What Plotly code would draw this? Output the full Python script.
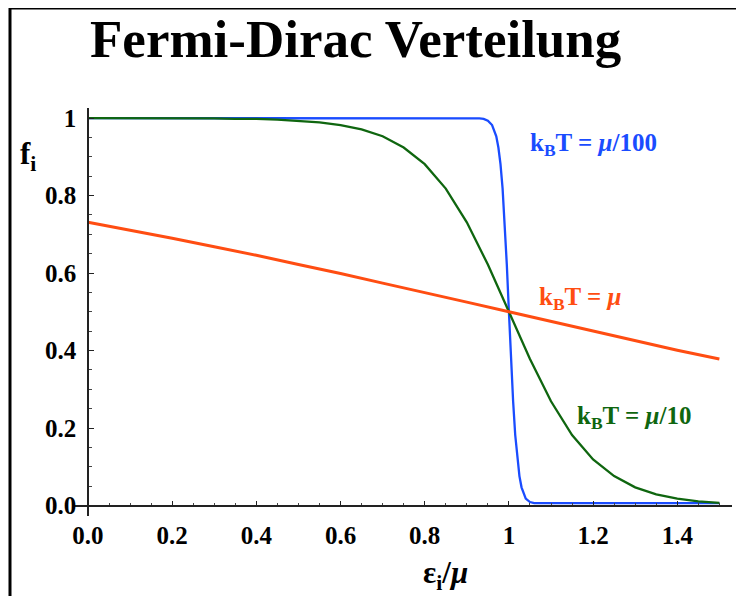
import plotly.graph_objects as go

# ---- data ----
x_orange = [0.0, 0.1, 0.2, 0.3, 0.4, 0.5, 0.6, 0.7, 0.8, 0.9, 1.0, 1.1, 1.2, 1.3, 1.4, 1.5]
f_orange = [0.731, 0.711, 0.690, 0.668, 0.646, 0.622, 0.599, 0.574, 0.550, 0.525, 0.500,
            0.475, 0.450, 0.426, 0.401, 0.378]

x_green = [0.0, 0.1, 0.2, 0.3, 0.35, 0.4, 0.45, 0.5, 0.55, 0.6, 0.65, 0.7, 0.75, 0.8, 0.85,
           0.9, 0.95, 1.0, 1.05, 1.1, 1.15, 1.2, 1.25, 1.3, 1.35, 1.4, 1.45, 1.5]
f_green = [1.000, 1.000, 1.000, 0.999, 0.998, 0.998, 0.996, 0.993, 0.989, 0.982, 0.971, 0.953,
           0.924, 0.881, 0.818, 0.731, 0.622, 0.500, 0.378, 0.269, 0.182, 0.119, 0.076, 0.047,
           0.029, 0.018, 0.011, 0.007]

x_blue = [0.0, 0.5, 0.9, 0.92, 0.93, 0.94, 0.95, 0.96, 0.97, 0.975, 0.98, 0.985, 0.99, 0.995,
          1.0, 1.005, 1.01, 1.015, 1.02, 1.025, 1.03, 1.04, 1.05, 1.06, 1.2, 1.5]
f_blue = [1.0, 1.0, 1.0, 1.0, 0.999, 0.998, 0.993, 0.982, 0.953, 0.924, 0.881, 0.818, 0.731,
          0.622, 0.500, 0.378, 0.269, 0.182, 0.119, 0.076, 0.047, 0.018, 0.009, 0.006, 0.006, 0.006]

x_tickvals = [0.0, 0.2, 0.4, 0.6, 0.8, 1.0, 1.2, 1.4]
x_ticktext = ["0.0", "0.2", "0.4", "0.6", "0.8", "1", "1.2", "1.4"]
y_tickvals = [0.0, 0.2, 0.4, 0.6, 0.8, 1.0]
y_ticktext = ["0.0", "0.2", "0.4", "0.6", "0.8", "1"]

title_text = "Fermi-Dirac Verteilung"
label_blue = "<b>k<sub>B</sub>T = <i>μ</i>/100</b>"
label_orange = "<b>k<sub>B</sub>T = <i>μ</i></b>"
label_green = "<b>k<sub>B</sub>T = <i>μ</i>/10</b>"

BLUE = "#1a4cff"
GREEN = "#0f660f"
ORANGE = "#ff4d12"
SERIF = "Liberation Serif, Times New Roman, serif"

fig = go.Figure()
fig.add_trace(go.Scatter(x=x_blue, y=f_blue, mode="lines",
                         line=dict(color=BLUE, width=2.3), hoverinfo="skip"))
fig.add_trace(go.Scatter(x=x_green, y=f_green, mode="lines",
                         line=dict(color=GREEN, width=2.3), hoverinfo="skip"))
fig.add_trace(go.Scatter(x=x_orange, y=f_orange, mode="lines",
                         line=dict(color=ORANGE, width=3), hoverinfo="skip"))

tickfont = dict(family=SERIF, size=25, color="black", weight="bold")

# the page adds an 8px body margin, so the figure is laid out 8px up/left
fig.update_layout(
    width=736, height=588,
    margin=dict(l=65, r=12, t=100, b=80),
    paper_bgcolor="white", plot_bgcolor="white",
    showlegend=False,
    xaxis=dict(range=[-0.0356, 1.530], anchor="free", position=0.0257,
               showgrid=False, zeroline=False, showline=True, linecolor="#222", linewidth=1.5,
               tickmode="array", tickvals=x_tickvals, ticktext=x_ticktext,
               ticks="inside", ticklen=4, tickwidth=1.3, tickcolor="#222",
               ticklabelstandoff=8, tickfont=tickfont,
               minor=dict(tickmode="linear", tick0=0, dtick=0.05, ticks="inside",
                          ticklen=2, tickwidth=1, tickcolor="#444")),
    yaxis=dict(range=[-0.027, 1.026], anchor="free", position=0.0228,
               showgrid=False, zeroline=False, showline=True, linecolor="#222", linewidth=1.5,
               tickmode="array", tickvals=y_tickvals, ticktext=y_ticktext,
               ticks="inside", ticklen=5, tickwidth=1.3, tickcolor="#222",
               ticklabelstandoff=6, tickfont=tickfont,
               minor=dict(tickmode="linear", tick0=0, dtick=0.05, ticks="inside",
                          ticklen=3, tickwidth=1, tickcolor="#444")),
)

# outer frame
fig.add_shape(type="rect", xref="paper", yref="paper",
              x0=-0.0956, x1=1.0091, y0=-0.35, y1=1.245,
              line=dict(color="black", width=3), fillcolor="rgba(0,0,0,0)", layer="above")

anns = [
    dict(text=f"<b>{title_text}</b>", x=0.4294, y=1.169, xref="paper", yref="paper",
         font=dict(family=SERIF, size=53, color="black")),
    dict(text="<b>f<sub>i</sub></b>", x=-0.068, y=0.882, xref="paper", yref="paper",
         font=dict(family=SERIF, size=31, color="black")),
    dict(text="<b>ε<sub>i</sub>/<i>μ</i></b>", x=0.5645, y=-0.145, xref="paper", yref="paper",
         font=dict(family=SERIF, size=31, color="black")),
    dict(text=label_blue, x=1.202, y=0.933, xref="x", yref="y",
         font=dict(family=SERIF, size=25, color=BLUE)),
    dict(text=label_orange, x=1.169, y=0.535, xref="x", yref="y",
         font=dict(family=SERIF, size=25, color=ORANGE)),
    dict(text=label_green, x=1.297, y=0.228, xref="x", yref="y",
         font=dict(family=SERIF, size=25, color=GREEN)),
]
for a in anns:
    fig.add_annotation(showarrow=False, xanchor="center", yanchor="middle", **a)

fig.write_html("out.html")
